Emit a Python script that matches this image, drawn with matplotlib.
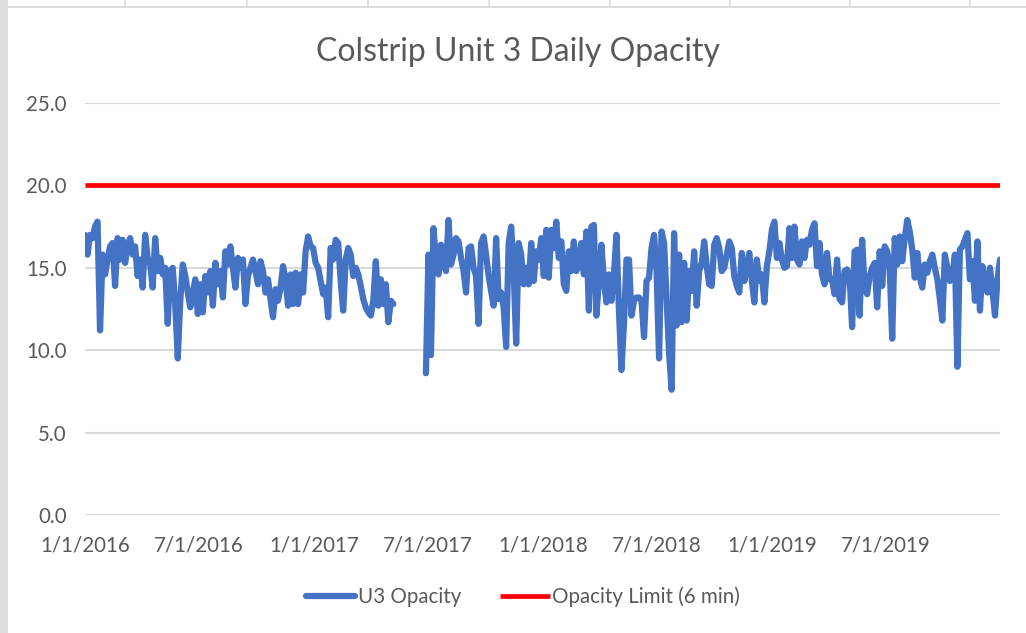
import numpy as np
import pandas as pd
import matplotlib
matplotlib.use("Agg")
import matplotlib.pyplot as plt
from matplotlib.patches import Rectangle
from matplotlib.lines import Line2D

plt.rcParams['font.family'] = ['Lato', 'DejaVu Sans']

# ---- data (one reading every 4 days, 1/1/2016 .. 12/31/2019) ----
start_date = "2016-01-01"
step = "4D"
u3_opacity = [
    # 2016 H1
    17.0, 15.8, 17.0, 16.8, 17.5, 17.8, 11.2, 15.8, 14.6, 15.5,
    16.3, 16.5, 13.9, 16.8, 15.5, 16.7, 15.3, 16.3, 16.8, 15.8,
    16.3, 14.5, 15.5, 13.8, 17.0, 15.6, 15.2, 13.8, 16.8, 14.8,
    15.6, 14.6, 15.0, 11.6, 14.8, 15.0, 12.8, 9.5, 13.0, 15.2,
    14.5, 13.5, 12.6, 13.5, 14.3, 12.2, 14.0, 12.3,
    # 2016 H2
    14.5, 13.5, 14.8, 12.7, 15.3, 14.0, 14.8, 13.2, 16.0, 15.2,
    16.3, 15.0, 13.8, 15.6, 15.0, 15.5, 12.8, 14.5, 15.0, 15.5,
    14.8, 14.0, 15.4, 14.8, 13.5, 14.3, 13.1, 12.0, 13.7, 13.0,
    13.8, 15.1, 14.3, 12.7, 14.6, 12.8, 14.7, 12.8, 14.6, 13.5,
    # 2017
    16.0, 16.9, 16.3, 16.2, 15.3, 15.0, 14.2, 13.4, 13.8, 12.0,
    16.2, 15.5, 16.7, 16.5, 14.2, 12.4, 15.5, 16.2, 15.8, 14.5,
    15.0, 14.6, 13.9, 13.1, 12.6, 12.3, 12.1, 13.0, 15.4, 12.7,
    14.3, 12.8, 14.0, 11.7, 13.0, 12.8,
    np.nan, np.nan, np.nan, np.nan, np.nan, np.nan, np.nan, np.nan,
    np.nan, np.nan, np.nan, np.nan,
    8.6, 15.8, 9.7, 17.4, 15.5, 14.6, 16.4, 15.2, 14.8, 17.9,
    15.2, 15.8, 16.8, 16.6, 15.6, 14.8, 13.5, 16.2, 16.3, 15.0,
    14.5, 11.6, 16.5, 16.9, 15.8, 14.5, 13.6, 12.7, 16.8, 13.1,
    13.5, 12.6, 10.2, 16.5, 17.5, 14.8, 10.4, 16.5, 15.8, 14.0,
    15.0, 14.0, 16.5, 14.2,
    # 2018
    16.0, 15.5, 16.8, 14.5, 17.3, 14.4, 17.3, 16.2, 17.8, 15.6,
    16.6, 14.0, 13.6, 16.0, 14.8, 16.6, 14.8, 15.2, 16.5, 14.6,
    17.2, 12.4, 17.5, 17.6, 12.1, 14.2, 16.4, 14.2, 12.9, 14.6,
    13.0, 14.6, 17.0, 12.4, 8.8, 11.6, 15.5, 15.5, 12.1, 13.0,
    13.2, 13.2, 13.0, 10.8, 14.2, 14.4, 16.2, 17.0, 14.8, 9.5,
    17.2, 16.5, 13.1, 9.8, 7.6, 17.1, 11.5, 15.8, 11.7, 15.3,
    11.8, 14.8, 13.6, 16.0, 12.7, 14.8, 15.3, 16.6, 15.1, 14.0,
    13.9, 16.4, 16.8, 16.2, 14.8, 15.0, 15.8, 16.6, 16.2, 14.5,
    13.9, 13.5, 15.9, 14.2, 15.0, 15.9, 14.2, 12.9, 15.5, 14.2,
    14.6, 12.9,
    # 2019
    15.1, 16.0, 17.3, 17.8, 15.6, 16.5, 15.5, 15.0, 15.1, 17.4,
    15.6, 17.5, 15.5, 15.2, 16.6, 15.6, 16.7, 16.4, 17.3, 17.7,
    15.1, 16.5, 14.6, 14.0, 15.9, 14.3, 14.3, 13.4, 15.5, 13.1,
    12.9, 14.8, 14.9, 14.5, 11.4, 16.0, 16.1, 12.1, 16.7, 13.8,
    13.4, 14.5, 15.0, 15.3, 12.6, 16.0, 13.9, 16.3, 16.0, 15.0,
    10.7, 16.8, 15.2, 16.9, 15.4, 16.8, 17.9, 17.2, 16.1, 14.4,
    15.9, 14.4, 13.8, 15.2, 14.7, 15.4, 15.8, 15.0, 14.3, 13.1,
    11.8, 15.8, 15.0, 14.2, 14.5, 15.8, 9.0, 16.1, 16.3, 16.7,
    17.1, 14.3, 15.4, 13.0, 16.6, 12.4, 15.1, 14.0, 13.5, 15.0,
    13.6, 12.1, 14.3, 15.5,
]
opacity_limit = 20.0
x_start = "2016-01-01"
x_end = "2019-12-31"
tick_dates = ["2016-01-01", "2016-07-01", "2017-01-01", "2017-07-01",
              "2018-01-01", "2018-07-01", "2019-01-01", "2019-07-01"]
tick_labels = ["1/1/2016", "7/1/2016", "1/1/2017", "7/1/2017",
               "1/1/2018", "7/1/2018", "1/1/2019", "7/1/2019"]
y_ticks = [0, 5, 10, 15, 20, 25]
y_tick_labels = ["0.0", "5.0", "10.0", "15.0", "20.0", "25.0"]
title = "Colstrip Unit 3 Daily Opacity"
series_names = ["U3 Opacity", "Opacity Limit (6 min)"]

dates = pd.date_range(start_date, periods=len(u3_opacity), freq=step)
limit_dates = pd.to_datetime([x_start, x_end])

# ---- figure ----
W, H = 1026, 633
fig = plt.figure(figsize=(W / 100, H / 100), dpi=100, facecolor="white")

# spreadsheet surroundings
fig.patches.append(Rectangle((0, 0), 8 / W, 1, transform=fig.transFigure,
                             facecolor="#DCDCDC", edgecolor="none", zorder=0))
fig.patches.append(Rectangle((0, 1 - 8 / H), 1, 2 / H, transform=fig.transFigure,
                             facecolor="#DCDCDC", edgecolor="none", zorder=0))
for cx in [125, 247, 368, 489, 610, 730, 850, 970]:
    fig.add_artist(Line2D([cx / W, cx / W], [1 - 7 / H, 1], transform=fig.transFigure,
                          color="#DCDCDC", lw=1.2))

ax = fig.add_axes([85 / W, 118 / H, 915 / W, 412 / H])
ax.set_facecolor("white")

ax.plot(dates, u3_opacity, color="#4472C4", lw=4.5, solid_capstyle="round",
        solid_joinstyle="round", label=series_names[0], zorder=3)
ax.plot(limit_dates, [opacity_limit, opacity_limit], color="#FF0000", lw=3.4,
        solid_capstyle="butt", label=series_names[1], zorder=3)

ax.set_xlim(pd.Timestamp(x_start), pd.Timestamp(x_end))
ax.set_ylim(0, 25)
ax.set_yticks(y_ticks)
ax.set_yticklabels(y_tick_labels)
ax.set_xticks(pd.to_datetime(tick_dates))
ax.set_xticklabels(tick_labels)

ax.grid(axis="y", color="#D9D9D9", lw=1.5, zorder=0)
ax.grid(axis="x", visible=False)
for s in ax.spines.values():
    s.set_visible(False)
ax.tick_params(axis="both", length=0, colors="#595959", labelsize=14.8)
ax.tick_params(axis="y", pad=13)
ax.tick_params(axis="x", pad=15)

fig.text(518 / W, 1 - 52 / H, title, ha="center", va="center",
         fontsize=23, color="#595959")

leg = fig.legend(loc="center", bbox_to_anchor=(523 / W, 1 - 597 / H), ncol=2,
                 frameon=False, fontsize=14.8, handlelength=2.4, columnspacing=1.9,
                 handletextpad=0.12)
for t in leg.get_texts():
    t.set_color("#595959")

fig.savefig("out.png", dpi=100, facecolor=fig.get_facecolor())
